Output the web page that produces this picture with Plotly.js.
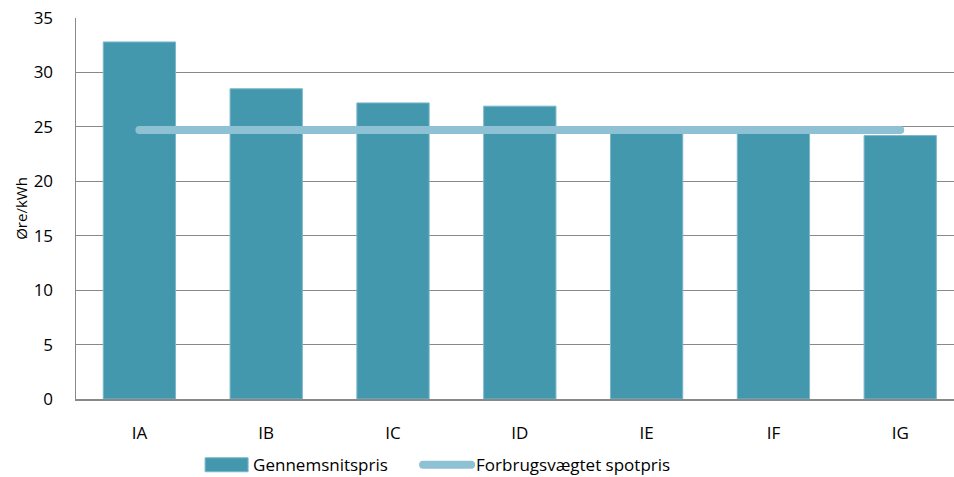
<!DOCTYPE html>
<html>
<head>
<meta charset="utf-8">
<script src="https://cdn.plot.ly/plotly-3.0.1.min.js"></script>
<style>
html,body{margin:0;padding:0;background:#fff;}
#chart{width:954px;height:477px;}
.scatterlayer path.js-line{stroke-linecap:round;}
.legend path.js-line{stroke-linecap:round;}
.legend g.scrollbox{clip-path:none !important;}
</style>
</head>
<body>
<div id="chart"></div>
<script>
const categories = ["IA", "IB", "IC", "ID", "IE", "IF", "IG"];
const gennemsnitspris = [32.8, 28.5, 27.2, 26.9, 24.4, 24.4, 24.2];
const spotpris = [24.7, 24.7, 24.7, 24.7, 24.7, 24.7, 24.7];
const yTicks = [0, 5, 10, 15, 20, 25, 30, 35];

const fontFam = "Open Sans, Lato, sans-serif";

const traces = [
  {
    type: "bar",
    name: "Gennemsnitspris",
    x: categories,
    y: gennemsnitspris,
    marker: {color: "#4398ae", line: {color: "#7bb8c9", width: 1}},
    hoverinfo: "x+y"
  },
  {
    type: "scatter",
    mode: "lines",
    name: "Forbrugsvægtet spotpris",
    x: categories,
    y: spotpris,
    line: {color: "#8ec1d3", width: 8}
  }
];

const layout = {
  width: 954,
  height: 477,
  margin: {l: 76, r: 0, t: 18, b: 78},
  paper_bgcolor: "#ffffff",
  plot_bgcolor: "#ffffff",
  font: {family: fontFam, size: 17, color: "#000000"},
  bargap: 0.43,
  showlegend: true,
  legend: {
    orientation: "h",
    xref: "container",
    yref: "container",
    x: 0.2045,
    xanchor: "left",
    y: 0.025,
    yanchor: "middle",
    bgcolor: "rgba(0,0,0,0)",
    font: {family: fontFam, size: 17, color: "#000"},
    traceorder: "normal",
    itemwidth: 48,
    entrywidth: 160,
    entrywidthmode: "pixels"
  },
  xaxis: {
    type: "category",
    range: [-0.5, 6.424],
    showgrid: false,
    showline: true,
    linecolor: "#898989",
    linewidth: 1.5,
    ticks: "",
    tickfont: {family: fontFam, size: 17, color: "#000"},
    ticklabelstandoff: 18,
    fixedrange: true
  },
  yaxis: {
    range: [0, 35],
    tickvals: yTicks,
    ticktext: yTicks.map(String),
    showgrid: true,
    gridcolor: "#898989",
    gridwidth: 1,
    showline: true,
    linecolor: "#898989",
    linewidth: 1.5,
    zeroline: false,
    ticks: "",
    tickfont: {family: fontFam, size: 17, color: "#000"},
    ticklabelstandoff: 18,
    title: {text: "Øre/kWh", font: {family: fontFam, size: 15, color: "#000"}, standoff: 2},
    fixedrange: true
  }
};

function widenBarSwatch() {
  const items = document.querySelectorAll(".legend .traces");
  if (!items.length) return;
  const barItem = items[0];
  const txt = barItem.querySelector("text.legendtext");
  const paths = barItem.querySelectorAll(".legendpoints path");
  if (!txt || !paths.length) return;
  const tb = txt.getBBox();
  paths.forEach(function (p) {
    p.removeAttribute("transform");
    const m = p.getCTM().inverse().multiply(txt.getCTM());
    const svg = p.ownerSVGElement;
    const pt = svg.createSVGPoint();
    pt.x = tb.x - 5; pt.y = tb.y + tb.height / 2;
    const e = pt.matrixTransform(m);
    const x1 = e.x, x0 = e.x - 43, yc = e.y;
    p.setAttribute("d", "M" + x0 + "," + (yc - 7) + "H" + x1 + "V" + (yc + 7) + "H" + x0 + "Z");
  });
  document.querySelectorAll(".legend g.scrollbox").forEach(function (g) {
    g.removeAttribute("clip-path");
  });
}

Plotly.newPlot("chart", traces, layout, {displayModeBar: false, staticPlot: true}).then(function () {
  widenBarSwatch();
  requestAnimationFrame(widenBarSwatch);
});
</script>
</body>
</html>
